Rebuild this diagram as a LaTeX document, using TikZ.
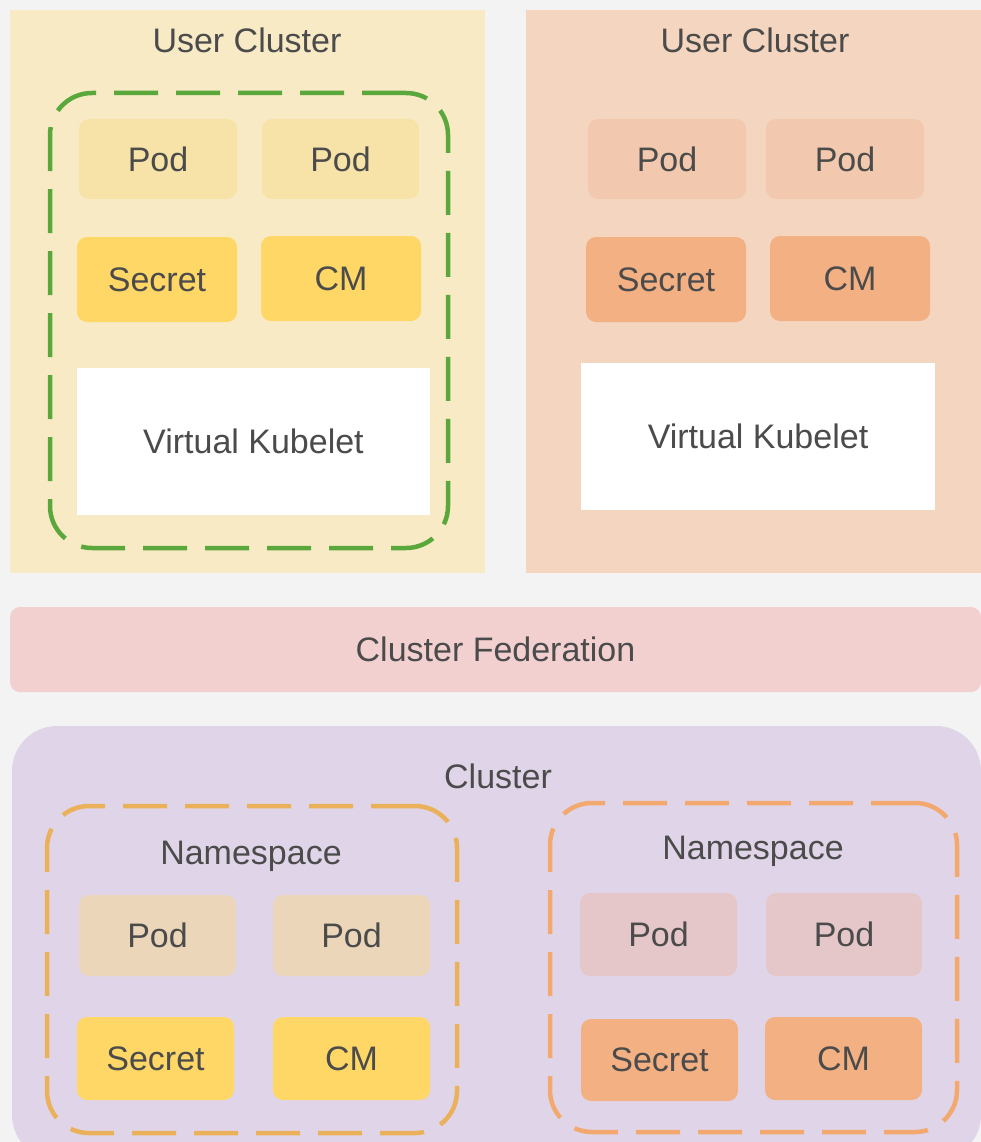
\documentclass[tikz,border=0pt]{standalone}
\usepackage{fontspec}
\setmainfont{Liberation Sans}
\definecolor{bgc}{HTML}{F3F3F3}
\definecolor{ucyellow}{HTML}{F8EAC5}
\definecolor{ucpeach}{HTML}{F4D6C0}
\definecolor{podyellow}{HTML}{F7E3A8}
\definecolor{objyellow}{HTML}{FED766}
\definecolor{podpeach}{HTML}{F2C9AE}
\definecolor{objorange}{HTML}{F3B083}
\definecolor{fedpink}{HTML}{F2D0D0}
\definecolor{clpurple}{HTML}{E0D5E8}
\definecolor{nspodbeige}{HTML}{ECD6BA}
\definecolor{nspodpink}{HTML}{E6C7C9}
\definecolor{vkgreen}{HTML}{5AA83C}
\definecolor{nsamber}{HTML}{EAB15A}
\definecolor{nsorange}{HTML}{F2A86E}
\definecolor{txt}{HTML}{4B4B4B}
\tikzset{
  lbl/.style={text=txt, font=\fontsize{34}{40}\selectfont, inner sep=0pt},
  box/.style={lbl, rectangle, rounded corners=10pt, minimum width=#1},
  region/.style={rectangle, inner sep=0pt},
  dashbox/.style={rectangle, draw=#1, line width=4.5pt, dash pattern=on 44pt off 18pt, rounded corners=42pt, inner sep=0pt},
  kubelet/.style={lbl, rectangle, fill=white, minimum width=353pt, minimum height=147pt}
}
\begin{document}
\begin{tikzpicture}[x=1pt, y=-1pt]
\useasboundingbox (0,0) rectangle (981,1142);
\clip (0,0) rectangle (981,1142);
\fill[bgc] (0,0) rectangle (981,1142);

% user cluster, left
\node[region, fill=ucyellow, minimum width=475pt, minimum height=563pt] (ucl) at (247.5,291.5) {};
\node[lbl] (ucltitle) at (247,40) {User Cluster};
\node[dashbox=vkgreen, minimum width=398pt, minimum height=455pt] (vkscope) at (249,320.5) {};
\node[box=158pt, fill=podyellow, minimum height=80pt] (lpod1) at (158,159) {Pod};
\node[box=157pt, fill=podyellow, minimum height=80pt] (lpod2) at (340.5,159) {Pod};
\node[box=160pt, fill=objyellow, minimum height=85pt] (lsecret) at (157,279.5) {Secret};
\node[box=160pt, fill=objyellow, minimum height=85pt] (lcm) at (341,278.5) {CM};
\node[kubelet] (lvk) at (253.5,441.5) {Virtual Kubelet};

% user cluster, right
\node[region, fill=ucpeach, minimum width=455pt, minimum height=563pt] (ucr) at (753.5,291.5) {};
\node[lbl] (ucrtitle) at (755,40) {User Cluster};
\node[box=158pt, fill=podpeach, minimum height=80pt] (rpod1) at (667,159) {Pod};
\node[box=158pt, fill=podpeach, minimum height=80pt] (rpod2) at (845,159) {Pod};
\node[box=160pt, fill=objorange, minimum height=85pt] (rsecret) at (666,279.5) {Secret};
\node[box=160pt, fill=objorange, minimum height=85pt] (rcm) at (850,278.5) {CM};
\node[kubelet, minimum width=354pt] (rvk) at (758,436.5) {Virtual Kubelet};

% federation bar
\node[box=971pt, fill=fedpink, minimum height=85pt] (fed) at (495.5,649.5) {Cluster Federation};

% host cluster
\node[region, fill=clpurple, rounded corners=45pt, minimum width=969pt, minimum height=434pt] (cl) at (496.5,943) {};
\node[lbl] (cltitle) at (498,776) {Cluster};

\node[dashbox=nsamber, minimum width=410pt, minimum height=327pt] (nsl) at (252,969.5) {};
\node[lbl] (nsltitle) at (251,856) {Namespace};
\node[box=157pt, fill=nspodbeige, minimum height=81pt] (npod1) at (157.5,935.5) {Pod};
\node[box=157pt, fill=nspodbeige, minimum height=81pt] (npod2) at (351.5,935.5) {Pod};
\node[box=157pt, fill=objyellow, minimum height=83pt] (nsecret1) at (155.5,1058.5) {Secret};
\node[box=157pt, fill=objyellow, minimum height=83pt] (ncm1) at (351.5,1058.5) {CM};

\node[dashbox=nsorange, minimum width=407pt, minimum height=329pt] (nsr) at (753.5,967.5) {};
\node[lbl] (nsrtitle) at (753,851) {Namespace};
\node[box=157pt, fill=nspodpink, minimum height=83pt] (npod3) at (658.5,934.5) {Pod};
\node[box=156pt, fill=nspodpink, minimum height=83pt] (npod4) at (844,934.5) {Pod};
\node[box=157pt, fill=objorange, minimum height=82pt] (nsecret2) at (659.5,1060) {Secret};
\node[box=157pt, fill=objorange, minimum height=83pt] (ncm2) at (843.5,1058.5) {CM};
\end{tikzpicture}
\end{document}
